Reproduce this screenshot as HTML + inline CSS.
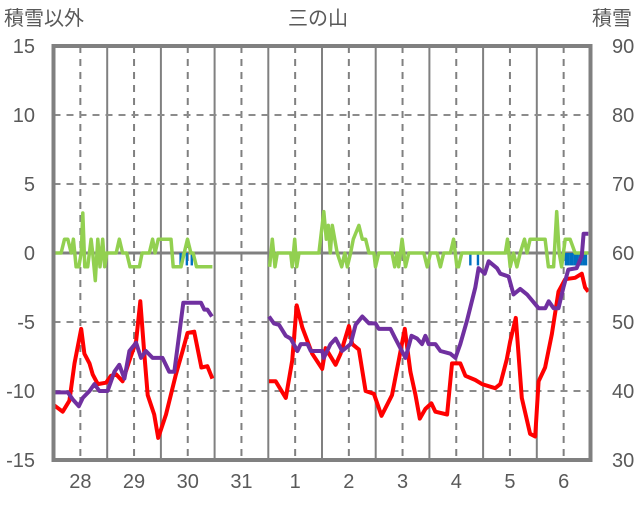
<!DOCTYPE html>
<html><head><meta charset="utf-8"><style>
body{margin:0;background:#fff;}
svg text{font-family:"Liberation Sans","Noto Sans CJK JP",sans-serif;fill:#595959;}
</style></head><body>
<svg id="chart" width="636" height="501" viewBox="0 0 636 501" xmlns="http://www.w3.org/2000/svg">
<text x="4" y="25" font-size="20">積雪以外</text>
<text x="318" y="25" font-size="20" text-anchor="middle">三の山</text>
<text x="632" y="25" font-size="20" text-anchor="end">積雪</text>
<g id="grid"></g><g id="marks"></g><g id="frame"></g><g id="labels"></g>
</svg>
<script>
const dayLabels=["28","29","30","31","1","2","3","4","5","6"];
const leftTicks=[15,10,5,0,-5,-10,-15];
const rightTicks=[90,80,70,60,50,40,30];
const redHours=[0,4.1,7.1,9.4,12.4,13.8,16.1,17.5,19.8,23.5,25.7,28,30.9,33.9,36.9,38.8,40.6,42.1,45,46.8,50.3,54.7,57.7,59.9,62.9,66.1,68.8,71,72,96.3,99.3,103.8,106.7,108.7,111.2,115.6,120.1,121.6,126.1,128.3,132,133.5,136.5,139.5,143.2,146.6,149.1,151.3,154.3,157,159.5,161.8,163.7,166.2,168.9,170.7,175.9,178.1,181.8,184.1,188.5,191.5,197.4,199.7,202.6,204.1,206.6,209.3,213,215.3,216.8,219.7,222.7,225.7,228.7,233.1,236.1,237.6,239];
const redValues=[-11,-11.5,-10.7,-8,-5.5,-7.3,-8,-8.8,-9.5,-9.4,-8.9,-8.8,-9.3,-7.8,-6.4,-3.5,-7.3,-10.3,-11.7,-13.4,-11.7,-8.8,-7.1,-5.8,-5.7,-8.3,-8.2,-9.1,null,-9.3,-9.3,-10.5,-7.8,-3.8,-5.4,-7.3,-8.4,-6.9,-8.1,-7.3,-5.3,-6.6,-7,-10,-10.2,-11.8,-11,-10.3,-7.8,-5.5,-8.6,-10.3,-12,-11.3,-10.9,-11.5,-11.7,-8,-8,-8.9,-9.2,-9.5,-9.8,-9.5,-7.7,-6.4,-4.7,-10.5,-13.1,-13.3,-9.3,-8.3,-5.9,-2.8,-1.9,-1.8,-1.5,-2.5,-2.8];
const snowHours=[0,6.4,8.6,11.3,13.1,16.1,18.3,20.5,24.2,27.2,29.4,31.7,33.9,36.9,39.1,41.3,44.3,48.7,51.7,54,56.2,58,65.9,67.4,68.8,70.8,72,96.3,98.5,100.8,103.8,106,109,110.5,113.5,115,120.1,120.8,123.8,126.1,129,132.8,135,138,141,143.9,145.4,150.6,152.8,157.3,160,162.5,164.7,166.2,167.7,170.7,172.9,177.4,179.6,181.8,184.8,188.5,190,192.7,194.5,198.2,199.7,203.4,205.6,208.6,211.6,216.8,219.8,221.3,223.5,225.7,227.9,230.1,233.8,236.1,236.9,239];
const snowValues=[39.8,39.8,38.8,37.8,39,40,41,40,40,42.8,43.8,41.8,45.8,47,44.8,45.8,44.8,44.8,42.8,42.8,48.2,52.8,52.8,51.8,51.8,50.8,null,50.8,49.8,49.6,48,47.6,45.8,46.8,46.8,45.8,45.8,44.8,46.8,47.6,45.8,46.8,49.6,50.8,49.8,49.8,49,49,47.6,44.8,48,47.6,46.8,48,46.8,46.8,45.8,45.4,44.8,46.8,50.2,55,57.8,57,58.8,57.8,57,56.6,54,54.8,54,52,52,53,52,52,55,57.6,57.8,59.6,62.8,62.8];
const greenHours=[0,3.4,4.9,6.4,7.9,8.9,10.1,11.3,12.4,13.1,14,15.3,16.8,17.5,18.7,19.8,20.8,22,22.9,23.8,28,29.4,30.9,32.7,34.2,36.1,38.4,39.6,42.8,44.3,45.4,46.8,52.5,53.5,57,58.4,59.9,61.4,62.4,63.9,71,72,96.6,97.8,99,100,106,106.7,107.8,108.7,109.7,118.6,120.8,121.9,122.8,123.7,124.6,126.8,128.8,130.2,131.3,132.8,134,136.5,138,139.5,141,143.2,143.9,145.4,151.3,152.5,153.5,154.3,155.8,157.3,158.8,165.5,167,168.5,171.4,172.9,174.4,177.4,178.8,180.3,181,182.5,201.9,202.9,204.1,205.6,207.1,208.6,210.5,211.6,213,219.7,221.2,223.5,224.9,226,227.1,228.7,230.9,233.1,239];
const greenValues=[0,0,1,1,0,1,-1,-1,0,2.9,-1,-1,1,0,-2,1,-1,1,-1,0,0,1,0,0,-1,-1,-1,0,0,1,0,1,1,-1,-1,0,1,0,0,-1,-1,null,-1,1,-1,0,0,-1,1,-1,0,0,3,1,2,0,2,0,-1,0,-1,0,1,2,1,1,0,0,-1,0,0,-1,0,-1,1,-1,0,0,-1,0,0,-1,0,0,1,-1,-1,0,0,1,-1,0,-1,0,1,0,1,1,-1,-1,3,0,-1,1,1,0,0];
const barHours=[56.8,59.6,61.8,186.3,189.7,229,230,231,232,233,234,235,236,237,238];
const barValues=[-0.9,-0.9,-0.9,-0.9,-0.9,-0.9,-0.9,-0.9,-0.9,-0.9,-0.9,-0.9,-0.9,-0.9,-0.9];

const NS='http://www.w3.org/2000/svg';
const X0=53.5,X1=590.5,Y0=46,Y1=460;
const dayW=(X1-X0)/10;
const xH=h=>X0+h*dayW/24;
const yL=v=>Y0+(15-v)*(Y1-Y0)/30;
const yR=v=>Y0+(90-v)*(Y1-Y0)/60;
function mk(tag,attrs,parent){const e=document.createElementNS(NS,tag);for(const k in attrs)e.setAttribute(k,attrs[k]);document.getElementById(parent).appendChild(e);return e;}
for(let i=1;i<10;i++){
  const l=mk('line',{x1:X0+i*dayW,x2:X0+i*dayW,y1:Y0,y2:Y1,stroke:'#808080','stroke-width':2},'grid');
  
  
}
for(let i=0;i<10;i++){
  const x=X0+(i+0.5)*dayW;
  const l=mk('line',{x1:x,x2:x,y1:Y0,y2:Y1,stroke:'#808080','stroke-width':2,'stroke-dasharray':'7,6'},'grid');
  
  
  const t=mk('text',{x:x,y:488,'font-size':20,'text-anchor':'middle'},'labels');
  t.textContent=dayLabels[i];
  
  
}
leftTicks.forEach((v,i)=>{
  const y=yL(v);
  if(v!==15&&v!==-15){
    const l=mk('line',{x1:X0,x2:X1,y1:y,y2:y,stroke:v===0?'#808080':'#8c8c8c','stroke-width':v===0?3:2,'stroke-dasharray':v===0?'none':'7,6'},'grid');
    
    
  }
  const t=mk('text',{x:35,y:y+7,'font-size':20,'text-anchor':'end'},'labels');
  t.textContent=String(v);
  
  
  const r=mk('text',{x:612,y:yR(rightTicks[i])+7,'font-size':20},'labels');
  r.textContent=String(rightTicks[i]);
  
  
});
barHours.forEach((h,i)=>{
  const y=yL(barValues[i]),y0=yL(0);
  const b=mk('rect',{x:xH(h)-1.2,y:Math.min(y,y0),width:2.4,height:Math.abs(y-y0),fill:'#0070c0'},'marks');
  
  
});
function path(hours,vals,yf){let d='',pen=false;hours.forEach((h,i)=>{const v=vals[i];if(v===null){pen=false;return;}d+=(pen?'L':'M')+xH(h).toFixed(1)+' '+yf(v).toFixed(1)+' ';pen=true;});return d;}
const g=mk('path',{d:path(greenHours,greenValues,yL),fill:'none',stroke:'#92d050','stroke-width':3.5,'stroke-linejoin':'round'},'marks');


const rd=mk('path',{d:path(redHours,redValues,yL),fill:'none',stroke:'#ff0000','stroke-width':4,'stroke-linejoin':'round'},'marks');


const pu=mk('path',{d:path(snowHours,snowValues,yR),fill:'none',stroke:'#7030a0','stroke-width':4,'stroke-linejoin':'round'},'marks');


const f=mk('rect',{x:X0,y:Y0,width:X1-X0,height:Y1-Y0,fill:'none',stroke:'#808080','stroke-width':4},'frame');


</script>
</body></html>
